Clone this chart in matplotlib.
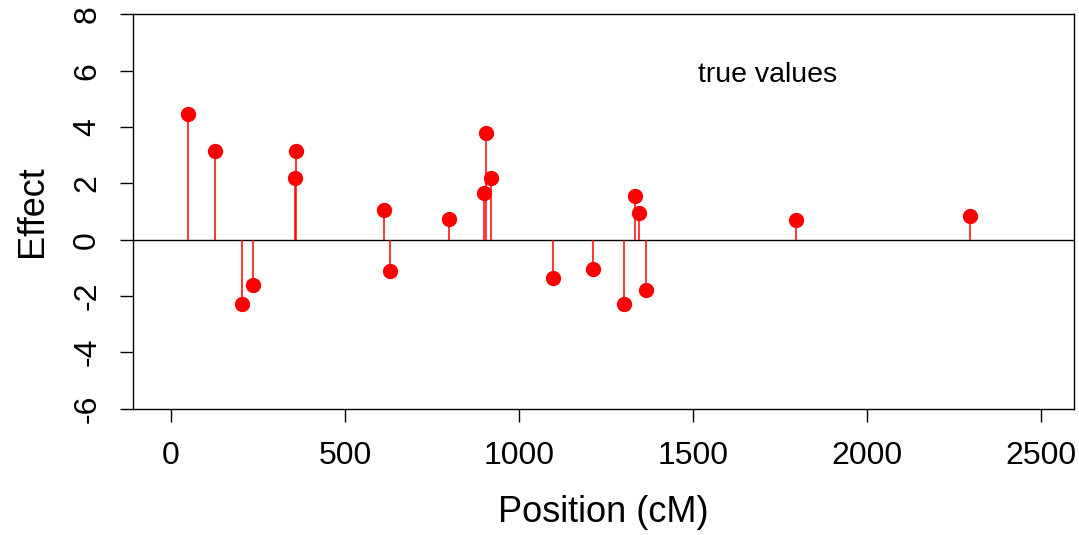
import matplotlib
matplotlib.use("Agg")
import matplotlib.pyplot as plt
import numpy as np

plt.rcParams['font.family'] = ['Liberation Sans', 'DejaVu Sans']

# QTL positions (cM) and true effects
position = [50, 125, 204, 235, 355, 359, 611, 628, 798, 899, 904, 918,
            1098, 1212, 1302, 1333, 1343, 1365, 1795, 2295]
effect = [4.48, 3.16, -2.27, -1.60, 2.20, 3.16, 1.07, -1.10, 0.75, 1.67,
          3.80, 2.20, -1.35, -1.03, -2.27, 1.56, 0.96, -1.78, 0.71, 0.85]

xticks = [0, 500, 1000, 1500, 2000, 2500]
yticks = [-6, -4, -2, 0, 2, 4, 6, 8]

fig = plt.figure(figsize=(10.79, 5.35), dpi=100)
ax = fig.add_axes([0.1237, 0.2364, 0.8717, 0.7366])

ax.axhline(0, color='black', lw=1.0, zorder=1)
ax.vlines(position, 0, effect, color='red', lw=1.1, zorder=2)
ax.plot(position, effect, 'o', color='red', ms=10, mec='red', zorder=3)

ax.set_xlim(-108, 2594)
ax.set_ylim(-6, 8)
ax.set_xticks(xticks)
ax.set_yticks(yticks)
ax.set_yticklabels([str(v) for v in yticks], rotation=90, va='center')

ax.tick_params(axis='both', direction='out', length=9.5, width=1.0,
               labelsize=23, color='black')
ax.tick_params(axis='x', pad=14)
ax.tick_params(axis='y', pad=13)
for s in ax.spines.values():
    s.set_linewidth(1.0)

ax.set_xlabel('Position (cM)', fontsize=26, labelpad=17)
ax.set_ylabel('Effect', fontsize=26, labelpad=16)

ax.text(1713, 5.85, 'true values', fontsize=20.5, ha='center', va='center')

fig.savefig('out.png', dpi=100)
